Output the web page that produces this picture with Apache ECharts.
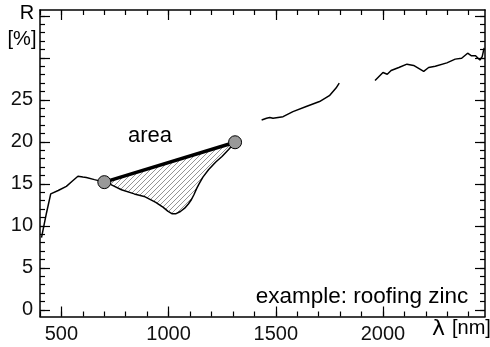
<!DOCTYPE html>
<html>
<head>
<meta charset="utf-8">
<script src="https://cdn.jsdelivr.net/npm/echarts@6/dist/echarts.min.js"></script>
<style>
  html, body { margin: 0; padding: 0; background: #fff; }
  #chart { width: 490px; height: 347px; }
</style>
</head>
<body>
<div id="chart"></div>
<script>
// spectrum of roofing zinc, null = gap in the measurement
const wavelength = [407, 430, 450, 454, 485, 523, 550, 577, 600, 616, 654, 700, 731, 780, 840, 886, 940, 975, 996, 1015, 1035, 1055, 1075, 1092, 1106, 1118, 1130, 1142, 1160, 1187, 1220, 1249, 1280, 1310,
  1370,
  1434, 1457, 1472, 1487, 1534, 1580, 1642, 1704, 1750, 1781, 1796,
  1880,
  1963, 2000, 2020, 2038, 2074, 2112, 2143, 2190, 2213, 2244, 2298, 2337, 2367, 2395, 2413, 2432, 2452, 2463, 2472]
const reflectance = [8.6, 11.5, 13.8, 13.9, 14.2, 14.7, 15.3, 15.9, 15.8, 15.75, 15.5, 15.2, 14.9, 14.3, 13.8, 13.5, 12.8, 12.2, 11.75, 11.45, 11.45, 11.7, 12.1, 12.6, 13.1, 13.7, 14.4, 15.0, 15.8, 16.7, 17.6, 18.25, 19.1, 19.95,
  null,
  22.6, 22.8, 22.9, 22.8, 23.0, 23.6, 24.2, 24.8, 25.5, 26.4, 27.0,
  null,
  27.3, 28.25, 28.05, 28.5, 28.85, 29.25, 29.1, 28.4, 28.85, 29.0, 29.4, 29.85, 29.95, 30.55, 30.25, 30.25, 29.75, 30.15, 31.2]

// end points of the hull line over the absorption feature
const hullNm = [700, 1310]

const xMajorTicks = [500, 1000, 1500, 2000]
const xMinorTicks = [400, 500, 600, 700, 800, 900, 1000, 1100, 1200, 1300, 1400, 1500, 1600, 1700, 1800, 1900, 2000, 2100, 2200, 2300, 2400]
const yMajorTicks = [0, 5, 10, 15, 20, 25, 30, 35]
const yLabelTicks = [0, 5, 10, 15, 20, 25]
const yMinorTicks = [0, 1, 2, 3, 4, 5, 6, 7, 8, 9, 10, 11, 12, 13, 14, 15, 16, 17, 18, 19, 20, 21, 22, 23, 24, 25, 26, 27, 28, 29, 30, 31, 32, 33, 34, 35]

const spectrum = wavelength.map((w, i) => [w, reflectance[i]])
const hullPts = hullNm.map(w => [w, reflectance[wavelength.indexOf(w)]])
const featurePts = spectrum.filter(p => p[1] != null && p[0] >= hullNm[0] && p[0] <= hullNm[1])

// hatch pattern for the absorption area
const hatch = document.createElement('canvas')
hatch.width = 5
hatch.height = 5
const g = hatch.getContext('2d')
g.strokeStyle = '#666'
g.lineWidth = 0.7
g.beginPath()
g.moveTo(0, 5); g.lineTo(5, 0)
g.moveTo(-1, 1); g.lineTo(1, -1)
g.moveTo(4, 6); g.lineTo(6, 4)
g.stroke()

const FONT = '"Liberation Sans", Arial, Helvetica, sans-serif'
const X_MIN = 400, X_MAX = 2476, Y_MIN = -0.8, Y_MAX = 35.7

const axisLine = { show: true, onZero: false, lineStyle: { color: '#000', width: 1.5 } }
const noLine = { show: false, onZero: false }

function xAxis(position, ticks, len, labels, line) {
  return {
    type: 'value', position, min: X_MIN, max: X_MAX,
    axisLine: line ? axisLine : noLine,
    axisTick: { show: true, inside: true, length: len, customValues: ticks, lineStyle: { color: '#000', width: 1.2 } },
    axisLabel: labels
      ? { show: true, customValues: xMajorTicks, formatter: v => String(v), margin: 8, color: '#111', fontSize: 20, fontFamily: FONT }
      : { show: false },
    splitLine: { show: false }
  }
}
function yAxis(position, ticks, len, labels, line) {
  return {
    type: 'value', position, min: Y_MIN, max: Y_MAX,
    axisLine: line ? axisLine : noLine,
    axisTick: { show: true, inside: true, length: len, customValues: ticks, lineStyle: { color: '#000', width: 1.2 } },
    axisLabel: labels
      ? { show: true, customValues: yLabelTicks, formatter: v => String(v), margin: 7, color: '#111', fontSize: 20, fontFamily: FONT }
      : { show: false },
    splitLine: { show: false }
  }
}

const chart = echarts.init(document.getElementById('chart'))
const option = {
  animation: false,
  backgroundColor: '#fff',
  grid: { left: 40, right: 5, top: 10, bottom: 30.5 },
  xAxis: [
    xAxis('bottom', xMajorTicks, 10, true, true),
    xAxis('bottom', xMinorTicks, 5, false, false),
    xAxis('top', xMajorTicks, 10, false, true),
    xAxis('top', xMinorTicks, 5, false, false)
  ],
  yAxis: [
    yAxis('left', yMajorTicks, 10, true, true),
    yAxis('left', yMinorTicks, 5, false, false),
    yAxis('right', yMajorTicks, 10, false, true),
    yAxis('right', yMinorTicks, 5, false, false)
  ],
  graphic: [
    { type: 'text', x: 27, y: 13, style: { text: 'R', font: '20px ' + FONT, fill: '#000', textAlign: 'center', textVerticalAlign: 'middle' } },
    { type: 'text', x: 22, y: 39, style: { text: '[%]', font: '20px ' + FONT, fill: '#000', textAlign: 'center', textVerticalAlign: 'middle' } },
    { type: 'text', x: 150, y: 136, style: { text: 'area', font: '22px ' + FONT, fill: '#000', textAlign: 'center', textVerticalAlign: 'middle' } },
    { type: 'text', x: 362, y: 297, style: { text: 'example: roofing zinc', font: '22.5px ' + FONT, fill: '#000', textAlign: 'center', textVerticalAlign: 'middle' } },
    { type: 'text', x: 432, y: 329, style: { text: 'λ', font: '22px "DejaVu Sans", sans-serif', fill: '#000', textAlign: 'left', textVerticalAlign: 'middle' } },
    { type: 'text', x: 452, y: 328, style: { text: '[nm]', font: '20px ' + FONT, fill: '#000', textAlign: 'left', textVerticalAlign: 'middle' } }
  ],
  series: [
    {
      type: 'custom',
      xAxisIndex: 0, yAxisIndex: 0,
      data: [hullPts[0]],
      z: 1,
      silent: true,
      renderItem: (params, api) => {
        const pts = hullPts.concat(featurePts.slice().reverse()).map(p => api.coord(p))
        return {
          type: 'polygon',
          shape: { points: pts },
          style: { fill: { image: hatch, repeat: 'repeat' }, stroke: null }
        }
      }
    },
    {
      type: 'line',
      xAxisIndex: 0, yAxisIndex: 0,
      data: spectrum,
      showSymbol: false,
      connectNulls: false,
      z: 2,
      lineStyle: { color: '#000', width: 1.5 }
    },
    {
      type: 'line',
      xAxisIndex: 0, yAxisIndex: 0,
      data: hullPts,
      showSymbol: false,
      z: 3,
      lineStyle: { color: '#000', width: 3.5 }
    },
    {
      type: 'scatter',
      xAxisIndex: 0, yAxisIndex: 0,
      data: hullPts,
      symbolSize: 13,
      z: 4,
      itemStyle: { color: '#999', borderColor: '#000', borderWidth: 1, opacity: 1 }
    }
  ]
}
chart.setOption(option)
</script>
</body>
</html>
